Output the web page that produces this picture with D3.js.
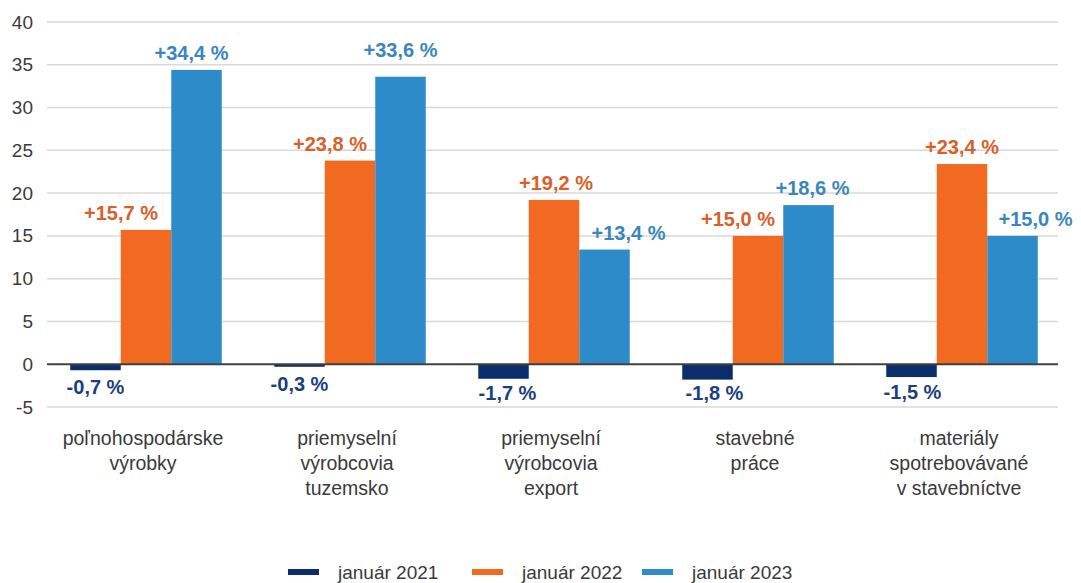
<!DOCTYPE html>
<html lang="sk">
<head>
<meta charset="UTF-8">
<title>Ceny</title>
<script src="https://cdnjs.cloudflare.com/ajax/libs/d3/7.8.5/d3.min.js"></script>
<style>
    * { margin: 0; padding: 0; box-sizing: border-box; }
    body { background: #fff; font-family: "Liberation Sans", Arial, sans-serif; }
    svg { display: block; }
</style>
</head>
<body>
<div id="chart"></div>
<script>
// data
const categories = [
    ["poľnohospodárske", "výrobky"],
    ["priemyselní", "výrobcovia", "tuzemsko"],
    ["priemyselní", "výrobcovia", "export"],
    ["stavebné", "práce"],
    ["materiály", "spotrebovávané", "v stavebníctve"]
];
const seriesNames = ["január 2021", "január 2022", "január 2023"];
const jan2021 = [-0.7, -0.3, -1.7, -1.8, -1.5];
const jan2022 = [15.7, 23.8, 19.2, 15.0, 23.4];
const jan2023 = [34.4, 33.6, 13.4, 18.6, 15.0];
const yTicks = [-5, 0, 5, 10, 15, 20, 25, 30, 35, 40];

// look
const barColors = ["#0c2d6b", "#f26a22", "#2e8bc9"];
const labelColors = ["#1c3f7e", "#d8602b", "#3a86be"];
// small hand nudges of value labels [series][category] -> [dx, dy]
const nudges = [
    [[0, 0], [0, 0], [4, -3], [7, -4], [1, -2]],
    [[-25, 0], [-20, 0], [2, 0], [-20, 0], [0, 0]],
    [[-5, 0], [0, -10], [24, 0], [4, 0], [23, 0]]
];

const W = 1081, H = 583;
const x0 = 44, x1 = 1064, plotRight = 1058;
const svg = d3.select("#chart").append("svg").attr("width", W).attr("height", H);

const series = [jan2021, jan2022, jan2023];
const idx = categories.map((c, i) => i);

const x = d3.scaleBand().domain(idx).range([x0, x1]).padding(0);
const xs = d3.scaleBand().domain([0, 1, 2]).range([0, 151.5]);
const groupOff = (x.bandwidth() - 151.5) / 2;
const y = d3.scaleLinear().domain([-5, 40]).range([407, 22]);

// grid
svg.append("g").selectAll("line").data(yTicks.filter(t => t !== 0)).join("line")
    .attr("x1", 47).attr("x2", plotRight)
    .attr("y1", d => y(d)).attr("y2", d => y(d))
    .attr("stroke", "#d9d9d9").attr("stroke-width", 1.5);

// y axis labels
const yAxis = d3.axisLeft(y).tickValues(yTicks).tickSize(0).tickPadding(0)
    .tickFormat(d => String(d));
const ya = svg.append("g").attr("transform", "translate(33,0)").call(yAxis);
ya.select(".domain").remove();
ya.selectAll("text").attr("font-size", 19).attr("fill", "#3a3a3a")
    .attr("font-family", "Liberation Sans, Arial, sans-serif");

// bars
series.forEach((vals, s) => {
    svg.append("g").selectAll("rect").data(vals).join("rect")
        .attr("x", (d, i) => x(i) + groupOff + xs(s))
        .attr("width", xs.bandwidth())
        .attr("y", d => y(Math.max(0, d)))
        .attr("height", d => Math.abs(y(d) - y(0)))
        .attr("fill", barColors[s]);
});

// zero line
svg.append("line").attr("x1", 47).attr("x2", plotRight)
    .attr("y1", y(0)).attr("y2", y(0))
    .attr("stroke", "#404040").attr("stroke-width", 2);

// value labels
const fmt = v => (v > 0 ? "+" : "-") + Math.abs(v).toFixed(1).replace(".", ",") + " %";
series.forEach((vals, s) => {
    svg.append("g").selectAll("text").data(vals).join("text")
        .attr("x", (d, i) => x(i) + groupOff + xs(s) + xs.bandwidth() / 2 + nudges[s][i][0])
        .attr("y", (d, i) => (d >= 0 ? y(d) - 10 : y(d) + 24) + nudges[s][i][1])
        .attr("text-anchor", "middle")
        .attr("font-size", 20).attr("font-weight", "bold")
        .attr("fill", labelColors[s])
        .text(d => fmt(d));
});

// category labels
const cat = svg.append("g").selectAll("text").data(categories).join("text")
    .attr("x", (d, i) => x(i) + x.bandwidth() / 2 - 3)
    .attr("y", 445)
    .attr("text-anchor", "middle")
    .attr("font-size", 19.5).attr("fill", "#3a3a3a");
cat.selectAll("tspan").data(d => d).join("tspan")
    .attr("x", function () { return this.parentNode.getAttribute("x"); })
    .attr("dy", (d, i) => i === 0 ? 0 : 25)
    .text(d => d);

// legend
const legX = [288, 472, 642];
const leg = svg.append("g").selectAll("g").data(seriesNames).join("g")
    .attr("transform", (d, i) => `translate(${legX[i]},572)`);
leg.append("rect").attr("x", 0).attr("y", -3).attr("width", 31).attr("height", 6)
    .attr("fill", (d, i) => barColors[i]);
leg.append("text").attr("x", 50).attr("y", 7)
    .attr("font-size", 19).attr("fill", "#3a3a3a").text(d => d);
</script>
</body>
</html>
